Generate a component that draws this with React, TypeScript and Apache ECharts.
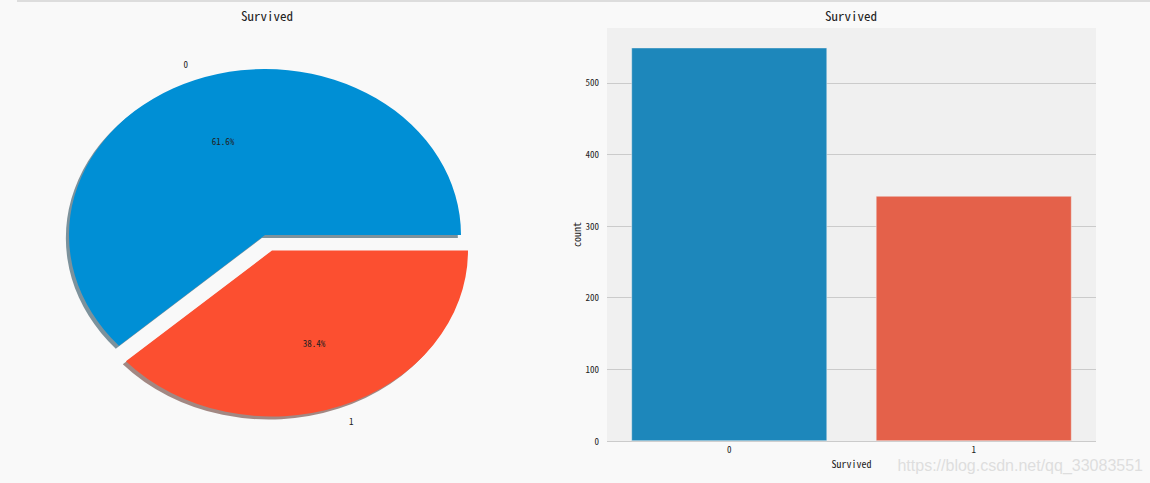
import React, { useEffect, useRef } from "react";
import * as echarts from "echarts";

const categories = ["0", "1"];
const counts = [549, 342];
const pieColors = ["#008fd5", "#fc4f30"];
const pieShadowColors = ["rgb(0,43,64)", "rgb(76,24,14)"];
const barColors = ["#1d87bb", "#e4614a"];
const explode = [0, 0.1];
const titleText = "Survived";
const yName = "count";
const watermark = "https://blog.csdn.net/qq_33083551";

const PIE_CX = 265;
const PIE_CY = 235;
const RX = 196;
const RY = 166;
const MONO = '"Noto Sans Mono CJK SC", "DejaVu Sans Mono", monospace';

export default function App() {
  const ref = useRef<HTMLDivElement>(null);
  useEffect(() => {
    const chart = echarts.init(ref.current as HTMLDivElement, null, { renderer: "svg" });
    const total = counts.reduce((a, b) => a + b, 0);
    const cum = counts.map((_, i) => counts.slice(0, i).reduce((a, b) => a + b, 0));

    const renderItem = (params: any, api: any) => {
      const i = params.dataIndex;
      const v = api.value(0);
      const a0 = (2 * Math.PI * cum[i]) / total;
      const a1 = (2 * Math.PI * (cum[i] + v)) / total;
      const mid = (a0 + a1) / 2;
      const ex = explode[i];
      const cx = PIE_CX + ex * RX * Math.cos(mid);
      const cy = PIE_CY - ex * RY * Math.sin(mid);
      const sc = RY / RX;
      const sector = (fill: string, dx: number, dy: number, z2: number, opacity: number) => ({
        type: "sector",
        x: cx + dx,
        y: cy + dy,
        scaleY: sc,
        z2,
        shape: { cx: 0, cy: 0, r: RX, r0: 0, startAngle: -a1, endAngle: -a0, clockwise: true },
        style: { fill, opacity },
      });
      const lx = cx + 1.1 * RX * Math.cos(mid);
      const ly = cy - 1.1 * RY * Math.sin(mid);
      const px = cx + 0.6 * RX * Math.cos(mid);
      const py = cy - 0.6 * RY * Math.sin(mid);
      const pct = ((v / total) * 100).toFixed(1) + "%";
      return {
        type: "group",
        children: [
          sector(pieShadowColors[i], -0.016 * RX, 0.018 * RY, 1, 0.5),
          sector(pieColors[i], 0, 0, 5, 1),
          {
            type: "text",
            x: lx,
            y: ly,
            z2: 10,
            style: {
              text: categories[i],
              fill: "#222",
              fontSize: 9,
              fontFamily: MONO,
              align: Math.cos(mid) > 0 ? "left" : "right",
              verticalAlign: "middle",
            },
          },
          {
            type: "text",
            x: px,
            y: py,
            z2: 10,
            style: {
              text: pct,
              fill: "#222",
              fontSize: 9,
              fontFamily: MONO,
              align: "center",
              verticalAlign: "middle",
            },
          },
        ],
      };
    };

    const titleStyle = { fontSize: 13, fontWeight: "normal", color: "#222", fontFamily: MONO };
    const option: any = {
      animation: false,
      backgroundColor: "#f9f9f9",
      title: [
        { text: titleText, left: 262, top: 4, textAlign: "center", textStyle: titleStyle },
        { text: titleText, left: 846, top: 4, textAlign: "center", textStyle: titleStyle },
      ],
      grid: {
        left: 607,
        right: 54,
        top: 28,
        bottom: 42,
        show: true,
        backgroundColor: "#f0f0f0",
        borderWidth: 0,
      },
      xAxis: {
        type: "category",
        data: categories,
        axisLine: { show: false },
        axisTick: { show: false },
        axisLabel: { fontSize: 9, color: "#222", fontFamily: MONO, margin: 4 },
        name: titleText,
        nameLocation: "middle",
        nameGap: 15,
        nameTextStyle: { fontSize: 10, color: "#222", fontFamily: MONO },
        splitLine: { show: false },
      },
      yAxis: {
        type: "value",
        min: 0,
        max: Math.max(...counts) * 1.05,
        interval: 100,
        axisLine: { show: false },
        axisTick: { show: false },
        axisLabel: { fontSize: 9, color: "#222", fontFamily: MONO, margin: 8, showMaxLabel: false },
        splitLine: { show: true, showMaxLine: false, lineStyle: { color: "#cbcbcb", width: 1 } },
        name: yName,
        nameLocation: "middle",
        nameGap: 22,
        nameTextStyle: { fontSize: 10, color: "#222", fontFamily: MONO },
      },
      series: [
        {
          type: "bar",
          data: counts.map((v, i) => ({ value: v, itemStyle: { color: barColors[i] } })),
          barWidth: "80%",
          itemStyle: { borderColor: "#f0f0f0", borderWidth: 0.5 },
        },
        {
          type: "custom",
          coordinateSystem: "none",
          data: counts.map((v) => [v]),
          renderItem,
        },
      ],
      graphic: [
        {
          type: "rect",
          shape: { x: 17, y: 0, width: 1133, height: 2 },
          style: { fill: "#dddddd" },
        },
        {
          type: "text",
          x: 1143,
          y: 465,
          style: {
            text: watermark,
            fill: "#dedede",
            fontSize: 16,
            fontFamily: '"Liberation Sans", Arial, sans-serif',
            align: "right",
            verticalAlign: "middle",
          },
        },
      ],
    };
    chart.setOption(option);
    return () => chart.dispose();
  }, []);
  return (
    <div
      ref={ref}
      style={{ position: "fixed", left: 0, top: 0, width: 1150, height: 483 }}
    />
  );
}
